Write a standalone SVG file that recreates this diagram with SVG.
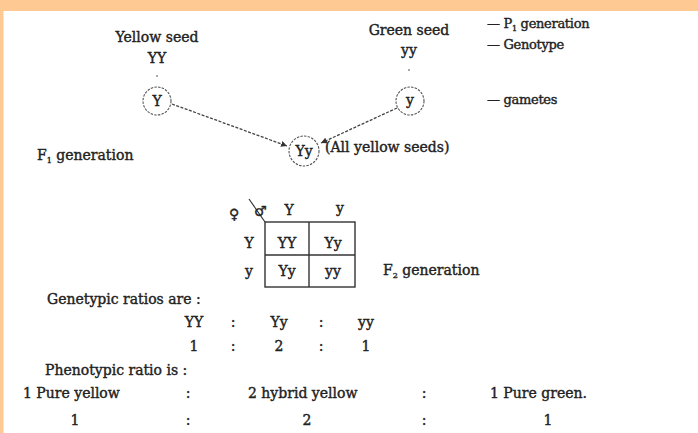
<svg xmlns="http://www.w3.org/2000/svg" width="698" height="433" viewBox="0 0 698 433">
<style>
.t{font-family:"DejaVu Serif","Liberation Serif",serif;font-size:14px;fill:#222;stroke:#222;stroke-width:0.4}
.m{text-anchor:middle}
.sub{font-size:8px}
.lg{font-size:13px;letter-spacing:-0.3px}
.c{fill:none;stroke:#555;stroke-width:1.1;stroke-dasharray:2.5 1.2}
.a{fill:none;stroke:#444;stroke-width:1.3;stroke-dasharray:3 1.5}
.g{fill:none;stroke:#333;stroke-width:1.4}
</style>
<defs>
<marker id="ah" markerWidth="8" markerHeight="8" refX="6" refY="3.5" orient="auto" markerUnits="userSpaceOnUse">
<path d="M0,0.5 L6,3.5 L0,6.5 Z" fill="#333"/>
</marker>
</defs>
<rect x="0" y="0" width="698" height="433" fill="#ffffff"/>
<rect x="0" y="0" width="698" height="11" fill="#ffc993"/>
<rect x="0" y="0" width="3.5" height="433" fill="#ffc993"/>

<g id="parent-yellow">
<text class="t m" x="157" y="42">Yellow seed</text>
<text class="t m" x="157" y="63">YY</text>
<line x1="156" y1="76" x2="158" y2="76" stroke="#555" stroke-width="1.2"/>
<circle class="c" cx="157" cy="101" r="14"/>
<text class="t m" x="157" y="106">Y</text>
</g>

<g id="parent-green">
<text class="t m" x="409" y="35">Green seed</text>
<text class="t m" x="409" y="55">yy</text>
<line x1="408" y1="70" x2="410" y2="70" stroke="#555" stroke-width="1.2"/>
<circle class="c" cx="410" cy="101" r="14"/>
<text class="t m" x="410" y="105">y</text>
</g>

<g id="legend">
<text class="t lg" x="487" y="28">— P<tspan class="sub" dy="3">1</tspan><tspan dy="-3"> generation</tspan></text>
<text class="t lg" x="487" y="49">— Genotype</text>
<text class="t lg" x="487" y="104">— gametes</text>
</g>

<g id="f1">
<text class="t" x="37" y="160">F<tspan class="sub" dy="3">1</tspan><tspan dy="-3"> generation</tspan></text>
<circle class="c" cx="304" cy="151" r="15"/>
<text class="t m" x="304" y="156">Yy</text>
<text class="t" x="325" y="152">(All yellow seeds)</text>
</g>

<g id="connectors">
<line class="a" x1="172" y1="104" x2="287" y2="146" marker-end="url(#ah)"/>
<line class="a" x1="397" y1="108" x2="321" y2="143" marker-end="url(#ah)"/>
</g>

<g id="punnett">
<text class="t" x="229" y="219" font-size="17">♀</text>
<line x1="249" y1="199" x2="265" y2="222" stroke="#333" stroke-width="1.2"/>
<text class="t" x="254" y="216" font-size="15">♂</text>
<text class="t m" x="289" y="215">Y</text>
<text class="t m" x="340" y="213">y</text>
<rect class="g" x="265" y="222" width="90" height="65"/>
<line class="g" x1="309" y1="222" x2="309" y2="287"/>
<line class="g" x1="265" y1="255" x2="355" y2="255"/>
<text class="t m" x="249" y="248">Y</text>
<text class="t m" x="249" y="276">y</text>
<text class="t m" x="287" y="248">YY</text>
<text class="t m" x="333" y="248">Yy</text>
<text class="t m" x="287" y="276">Yy</text>
<text class="t m" x="333" y="276">yy</text>
<text class="t" x="383" y="275">F<tspan class="sub" dy="3">2</tspan><tspan dy="-3"> generation</tspan></text>
</g>

<g id="genotypic">
<text class="t" x="47" y="304">Genetypic ratios are :</text>
<text class="t m" x="194" y="327">YY</text>
<text class="t m" x="233" y="327">:</text>
<text class="t m" x="279" y="327">Yy</text>
<text class="t m" x="321" y="327">:</text>
<text class="t m" x="366" y="327">yy</text>
<text class="t m" x="194" y="351">1</text>
<text class="t m" x="233" y="351">:</text>
<text class="t m" x="279" y="351">2</text>
<text class="t m" x="321" y="351">:</text>
<text class="t m" x="366" y="351">1</text>
</g>

<g id="phenotypic">
<text class="t" x="45" y="375">Phenotypic ratio is :</text>
<text class="t" x="23" y="398">1 Pure yellow</text>
<text class="t m" x="188" y="398">:</text>
<text class="t" x="248" y="398">2 hybrid yellow</text>
<text class="t m" x="424" y="398">:</text>
<text class="t" x="490" y="398">1 Pure green.</text>
<text class="t m" x="75" y="425">1</text>
<text class="t m" x="188" y="425">:</text>
<text class="t m" x="307" y="425">2</text>
<text class="t m" x="424" y="425">:</text>
<text class="t m" x="548" y="425">1</text>
</g>
</svg>
